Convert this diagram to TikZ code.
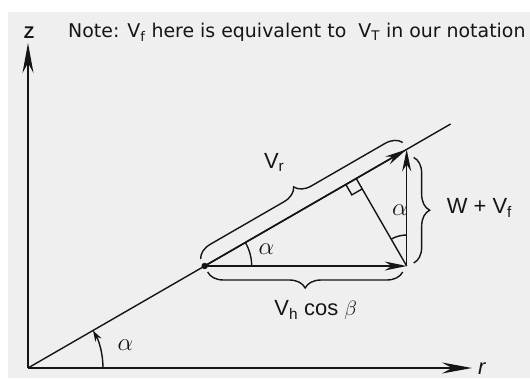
\documentclass[tikz,border=0pt]{standalone}
\usepackage{fontspec}
\setmainfont{Liberation Sans}
\newfontfamily\notefont{DejaVu Sans}
\usepackage{xcolor}
\usepackage{tikz}
\usetikzlibrary{arrows.meta,positioning,calc,decorations.pathreplacing}
\definecolor{scanpaper}{HTML}{EFEFEF}
\definecolor{scanink}{HTML}{151515}
\tikzset{
  axis/.style={-{Stealth[length=30bp,width=11bp,inset=10bp]},draw=scanink,line width=1.6bp},
  vec/.style={-{Stealth[length=22bp,width=9bp,inset=7bp]},draw=scanink,line width=1.6bp},
  geo/.style={draw=scanink,line width=1.4bp},
  brc/.style={decorate,decoration={brace,amplitude=16bp},draw=scanink,line width=1.4bp},
  lbl/.style={font=\fontsize{22}{24}\selectfont,text=scanink,inner sep=0pt},
  ang/.style={font=\fontsize{24}{26}\selectfont,text=scanink,inner sep=0pt},
}

\begin{document}
\begin{tikzpicture}[x=1bp,y=1bp]
  \useasboundingbox (0,0) rectangle (530,378);
  \fill[scanpaper] (8,0) rectangle (530,366);
  \coordinate (O) at (28,10);
  \coordinate (Ztop) at (28,335);
  \coordinate (Rend) at (472,10);
  \coordinate (P) at ($(O)+(30:204)$);
  \coordinate (B) at ($(P)+(202,0)$);
  \coordinate (T) at ($(B)+(0,116.6)$);
  \coordinate (Lend) at ($(O)+(30:488)$);
  \coordinate (F) at ($(P)+(30:175)$);
  \draw[axis] (O) -- (Ztop);
  \draw[axis] (O) -- (Rend);
  \draw[geo] (O) -- (Lend);
  \draw[vec] (P) -- (T);
  \draw[vec] (P) -- (B);
  \draw[vec] (B) -- (T);
  \draw[geo] (B) -- (F);
  \draw[geo] ($(F)+(210:12)$) -- ++(300:12) -- ++(30:12);
  \fill[scanink] (P) circle (3.2);
  \draw[geo] ($(P)+(47,0)$) arc[start angle=0,end angle=30,radius=47];
  \draw[geo] ($(B)+(0,31)$) arc[start angle=90,end angle=120,radius=31];
  \draw[geo,-{Stealth[length=11bp,width=7bp]}] ($(O)+(75,0)$) arc[start angle=0,end angle=30,radius=75];
  \draw[brc] ($(P)+(120:8)$) -- ($(T)+(120:8)$);
  \draw[brc] ($(T)+(7,-8)$) -- ($(B)+(7,3)$);
  \draw[brc] ($(B)+(-4,-6)$) -- ($(P)+(3,-6)$);
  \node[lbl] (vr) at ($(P)!0.5!(T)+(125:55)$) {V\textsubscript{r}};
  \node[lbl,anchor=west] (wvf) at ($(B)!0.5!(T)+(40,0)$) {W + V\textsubscript{f}};
  \node[lbl] (vh) at ($(P)!0.5!(B)+(10,-44)$) {V\textsubscript{h} cos $\beta$};
  \node[ang] (ap) at ($(P)+(15:64)$) {$\alpha$};
  \node[ang] (ab) at ($(B)+(97:56)$) {$\alpha$};
  \node[ang] (ao) at ($(O)+(13:100)$) {$\alpha$};
  \node[lbl,font=\fontsize{17}{19}\selectfont\bfseries] (zlab) at (29,345) {Z};
  \node[lbl,anchor=base west] (rlab) at (478,4) {\textit{r}};
  \node[anchor=base west,inner sep=0pt,text=scanink,font=\notefont\fontsize{19}{22}\selectfont] (note) at (68,341)
    {Note: V\textsubscript{f} here is equivalent to\ \ V\textsubscript{T} in our notation};
\end{tikzpicture}
\end{document}
